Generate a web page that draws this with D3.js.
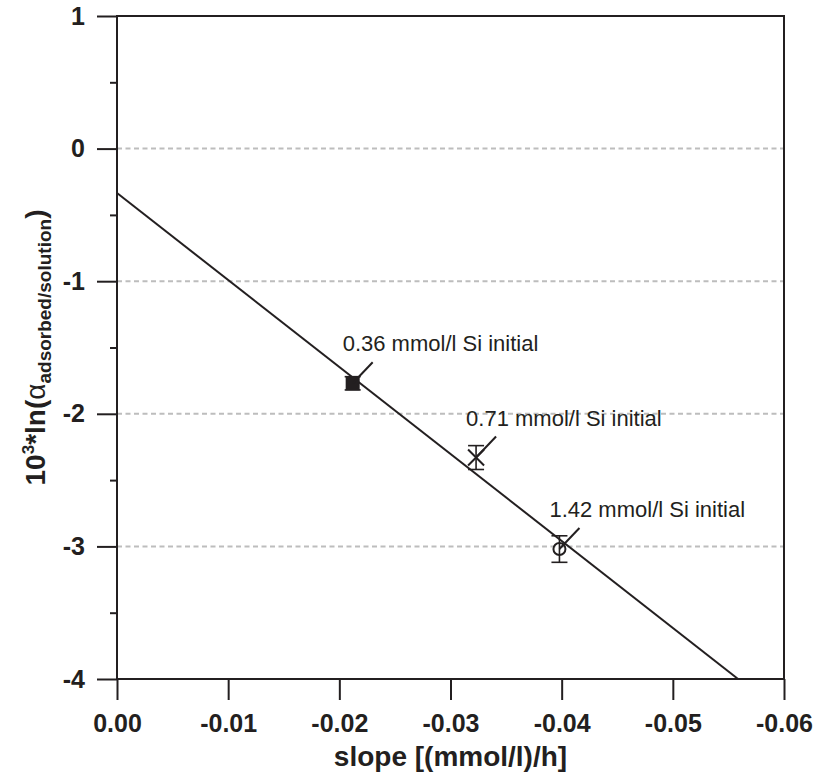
<!DOCTYPE html>
<html lang="en">

<head>
	<meta charset="UTF-8">
	<title>ln alpha vs slope</title>
	<script src="https://d3js.org/d3.v7.min.js"></script>
	<style>
		body {
			margin: 0;
			background: #fff;
		}

		text {
			font-family: "Liberation Sans", Arial, Helvetica, sans-serif;
			fill: #231f20;
		}
	</style>
</head>

<body>
	<div id="chart"></div>
</body>

<script>

	// values
	var labels = ["0.36 mmol/l Si initial", "0.71 mmol/l Si initial", "1.42 mmol/l Si initial"];
	var slopes = [-0.0212, -0.0323, -0.0398];
	var lnAlpha = [-1.77, -2.33, -3.02];
	var errors = [0.05, 0.09, 0.10];
	var markers = ["square", "times", "circle"];

	// fitted line y = intercept + k * x
	var fit = [-0.335, 65.6];

	var xTicks = [0, -0.01, -0.02, -0.03, -0.04, -0.05, -0.06];
	var yTicks = [1, 0, -1, -2, -3, -4];
	var yMinor = [0.5, -0.5, -1.5, -2.5, -3.5];
	var gridLines = [0, -1, -2, -3];

	var w = 813;
	var h = 774;
	var ink = "#231f20";

	var x = d3.scaleLinear()
		.domain([0, -0.06])
		.range([117, 784]);
	var y = d3.scaleLinear()
		.domain([-4, 1])
		.range([679, 16]);

	var svg = d3.select("#chart").append("svg")
		.attr("width", w)
		.attr("height", h);

	// dashed grid
	svg.append("g").selectAll("line")
		.data(gridLines)
		.enter()
		.append("line")
		.attr("x1", x(0))
		.attr("x2", x(-0.06))
		.attr("y1", function (d) { return y(d); })
		.attr("y2", function (d) { return y(d); })
		.attr("stroke", "#bdbdbd")
		.attr("stroke-width", 2)
		.attr("stroke-dasharray", "5,3.5");

	// regression line, cut where it leaves the frame at y = -4
	var xEnd = (-4 - fit[0]) / fit[1];
	svg.append("line")
		.attr("x1", x(0))
		.attr("y1", y(fit[0]))
		.attr("x2", x(xEnd))
		.attr("y2", y(-4))
		.attr("stroke", ink)
		.attr("stroke-width", 2);

	// frame
	svg.append("rect")
		.attr("x", x(0))
		.attr("y", y(1))
		.attr("width", x(-0.06) - x(0))
		.attr("height", y(-4) - y(1))
		.attr("fill", "none")
		.attr("stroke", ink)
		.attr("stroke-width", 2);

	// axes
	var yAxis = svg.append("g")
		.attr("transform", "translate(" + x(0) + ",0)")
		.call(d3.axisLeft(y)
			.tickValues(yTicks)
			.tickSize(20)
			.tickSizeOuter(0)
			.tickPadding(12)
			.tickFormat(function (d) { return String(d); }));

	var yAxisMinor = svg.append("g")
		.attr("transform", "translate(" + x(0) + ",0)")
		.call(d3.axisLeft(y)
			.tickValues(yMinor)
			.tickSize(7)
			.tickSizeOuter(0)
			.tickFormat(""));

	var xAxis = svg.append("g")
		.attr("transform", "translate(0," + y(-4) + ")")
		.call(d3.axisBottom(x)
			.tickValues(xTicks)
			.tickSize(21)
			.tickSizeOuter(0)
			.tickPadding(14)
			.tickFormat(function (d) { return d.toFixed(2); }));

	[yAxis, yAxisMinor, xAxis].forEach(function (g) {
		g.attr("color", ink);
		g.select(".domain").remove();
		g.selectAll("line").attr("stroke-width", 2);
		g.selectAll("text")
			.attr("font-family", null)
			.attr("font-size", 25)
			.attr("font-weight", "bold");
	});

	// error bars
	var bars = svg.append("g").selectAll("g")
		.data(slopes)
		.enter()
		.append("g")
		.attr("stroke", ink)
		.attr("stroke-width", 1.6)
		.attr("fill", "none");

	bars.append("line")
		.attr("x1", function (d) { return x(d); })
		.attr("x2", function (d) { return x(d); })
		.attr("y1", function (d, i) { return y(lnAlpha[i] + errors[i]); })
		.attr("y2", function (d, i) { return y(lnAlpha[i] - errors[i]); });

	[1, -1].forEach(function (s) {
		bars.append("line")
			.attr("x1", function (d) { return x(d) - 8; })
			.attr("x2", function (d) { return x(d) + 8; })
			.attr("y1", function (d, i) { return y(lnAlpha[i] + s * errors[i]); })
			.attr("y2", function (d, i) { return y(lnAlpha[i] + s * errors[i]); });
	});

	// markers
	var pts = svg.append("g").selectAll("g")
		.data(slopes)
		.enter()
		.append("g")
		.attr("transform", function (d, i) {
			return "translate(" + x(d) + "," + y(lnAlpha[i]) + ")";
		});

	pts.each(function (d, i) {
		var g = d3.select(this);
		if (markers[i] === "square") {
			g.append("rect")
				.attr("x", -7).attr("y", -7)
				.attr("width", 14).attr("height", 14)
				.attr("fill", ink);
		} else if (markers[i] === "times") {
			g.append("path")
				.attr("d", "M-8,-8L8,8M-8,8L8,-8")
				.attr("stroke", ink)
				.attr("stroke-width", 2);
		} else {
			g.append("circle")
				.attr("r", 6)
				.attr("fill", "none")
				.attr("stroke", ink)
				.attr("stroke-width", 2);
		}
		// leader line to the label
		g.append("line")
			.attr("x1", 0).attr("y1", 0)
			.attr("x2", 20).attr("y2", -21)
			.attr("stroke", ink)
			.attr("stroke-width", 2);
	});

	pts.append("text")
		.attr("x", -10)
		.attr("y", -32)
		.attr("font-size", 22)
		.text(function (d, i) { return labels[i]; });

	// axis titles
	svg.append("text")
		.attr("x", (x(0) + x(-0.06)) / 2)
		.attr("y", 766)
		.attr("text-anchor", "middle")
		.attr("font-size", 28)
		.attr("font-weight", "bold")
		.text("slope [(mmol/l)/h]");

	var yt = svg.append("text")
		.attr("transform", "translate(45," + (y(1) + y(-4)) / 2 + ") rotate(-90)")
		.attr("text-anchor", "middle")
		.attr("font-size", 28)
		.attr("font-weight", "bold");
	yt.append("tspan").text("10");
	yt.append("tspan").attr("dy", -11).attr("font-size", 17).text("3");
	yt.append("tspan").attr("dy", 11).text("*ln(");
	yt.append("tspan").attr("font-weight", "normal").text("\u03b1");
	yt.append("tspan").attr("dy", 6).attr("font-size", 19).text("adsorbed/solution");
	yt.append("tspan").attr("dy", -6).text(")");

</script>

</html>
